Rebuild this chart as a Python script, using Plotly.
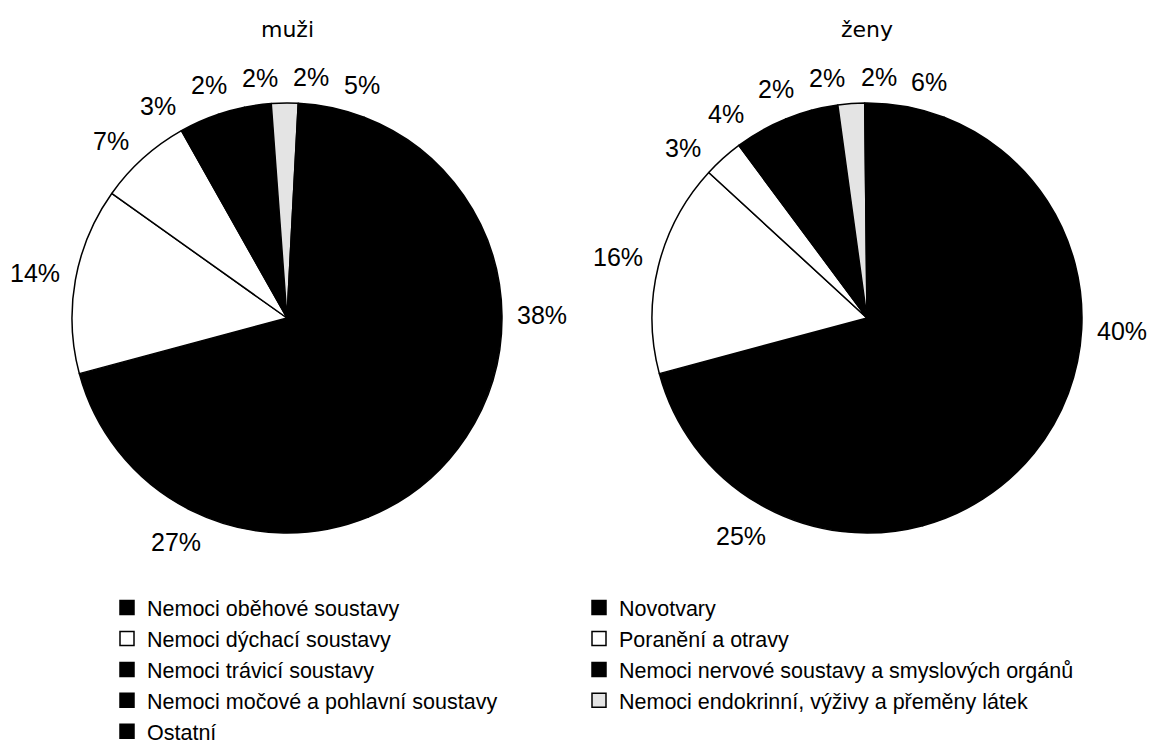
import math
import plotly.graph_objects as go

categories = [
    "Nemoci oběhové soustavy",
    "Novotvary",
    "Nemoci dýchací soustavy",
    "Poranění a otravy",
    "Nemoci trávicí soustavy",
    "Nemoci nervové soustavy a smyslových orgánů",
    "Nemoci močové a pohlavní soustavy",
    "Nemoci endokrinní, výživy a přeměny látek",
    "Ostatní",
]
muzi_values = [38, 27, 14, 7, 3, 2, 2, 2, 5]
zeny_values = [40, 25, 16, 3, 4, 2, 2, 2, 6]
slice_colors = ["#000000", "#000000", "#ffffff", "#ffffff", "#000000",
                "#000000", "#000000", "#e4e4e4", "#000000"]
titles = ["muži", "ženy"]
rotations = [21, 21]

W, H = 1156, 749
PAGE_OFF = 8          # default body margin of the html page
R = 215
centers = [(287, 318), (867, 318)]   # target positions on screen
LABEL_SIZE = 25
LABEL_FONT = "Liberation Sans, Arial, sans-serif"


def px(x):
    return (x - PAGE_OFF) / W


def py(y):
    return 1 - (y - PAGE_OFF) / H


def dom(cx, cy):
    return dict(x=[px(cx - R), px(cx + R)], y=[py(cy + R), py(cy - R)])


def label_positions(vals, rot):
    total = float(sum(vals))
    texts = [f"{v}%" for v in vals]
    widths = [(0.556 * (len(t) - 1) + 0.889) * LABEL_SIZE for t in texts]
    hh = 10.0
    gap = 15.0
    angles = []
    cum = 0.0
    for v in vals:
        angles.append(rot + (cum + v / 2.0) * 360.0 / total)
        cum += v

    def pos(i):
        th = math.radians(angles[i])
        hw = widths[i] / 2.0
        r = R + gap + abs(math.sin(th)) * hw + abs(math.cos(th)) * hh
        return r * math.sin(th), -r * math.cos(th)

    n = len(vals)
    for _ in range(800):
        moved = False
        for i in range(n):
            j = (i + 1) % n
            xi, yi = pos(i)
            xj, yj = pos(j)
            if (abs(xi - xj) < (widths[i] + widths[j]) / 2.0 + 14
                    and abs(yi - yj) < 2 * hh + 14):
                angles[i] -= 0.25
                angles[j] += 0.25
                moved = True
        if not moved:
            break
    return texts, [pos(i) for i in range(n)]


fig = go.Figure()
for vals, (cx, cy), rot in zip([muzi_values, zeny_values], centers, rotations):
    fig.add_trace(go.Pie(
        labels=categories,
        values=vals,
        sort=False,
        direction="clockwise",
        rotation=rot,
        marker=dict(colors=slice_colors, line=dict(color="#000000", width=1.5)),
        textinfo="none",
        domain=dom(cx, cy),
        hoverinfo="label+percent",
        showlegend=False,
    ))
    texts, pts = label_positions(vals, rot)
    for t, (dx, dy) in zip(texts, pts):
        fig.add_annotation(text=t, x=px(cx + dx), y=py(cy + dy),
                           xref="paper", yref="paper", showarrow=False,
                           xanchor="center", yanchor="middle",
                           font=dict(family=LABEL_FONT, size=LABEL_SIZE, color="#000000"))

# legend entries (two columns, filled row by row as in the reference)
for i, (cat, col) in enumerate(zip(categories, slice_colors)):
    fig.add_trace(go.Scatter(
        x=[None], y=[None], mode="markers", name=cat,
        marker=dict(symbol="square", size=14, color=col,
                    line=dict(color="#000000", width=1.5)),
        legend="legend" if i % 2 == 0 else "legend2",
        hoverinfo="skip",
    ))

for t, (cx, cy) in zip(titles, centers):
    fig.add_annotation(text=t, x=px(cx), y=py(29), xref="paper", yref="paper",
                       showarrow=False, xanchor="center", yanchor="middle",
                       font=dict(family="DejaVu Sans, Verdana, sans-serif", size=22, color="#000000"))

legend_common = dict(
    orientation="v",
    yanchor="top",
    font=dict(family="Liberation Sans, Arial, sans-serif", size=21.5, color="#000000"),
    traceorder="normal",
    bgcolor="rgba(0,0,0,0)",
    tracegroupgap=0,
)

fig.update_layout(
    width=W, height=H,
    margin=dict(l=0, r=0, t=0, b=0),
    paper_bgcolor="#ffffff",
    plot_bgcolor="#ffffff",
    showlegend=True,
    xaxis=dict(visible=False),
    yaxis=dict(visible=False),
    legend=dict(x=px(148 - 41), xanchor="left", y=py(587), **legend_common),
    legend2=dict(x=px(620 - 41), xanchor="left", y=py(587), **legend_common),
)

fig.write_html("out.html")
